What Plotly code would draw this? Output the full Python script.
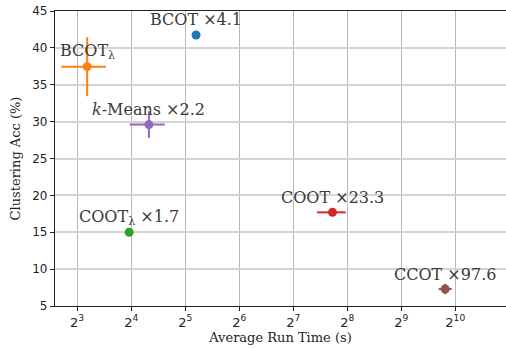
import math
import plotly.graph_objects as go

methods = ["BCOT", "BCOT_lambda", "k-Means", "COOT_lambda", "COOT", "CCOT"]
labels = ["BCOT ×4.1", "BCOT<sub>λ</sub>", "<i>k</i>-Means ×2.2",
          "COOT<sub>λ</sub> ×1.7", "COOT ×23.3", "CCOT ×97.6"]
run_time = [36.8, 9.1, 20.1, 15.6, 212.0, 900.0]
time_minus = [0.0, 2.56, 4.4, 0.0, 38.0, 72.0]
time_plus = [0.0, 2.45, 4.5, 0.0, 39.0, 78.0]
acc = [41.75, 37.45, 29.6, 15.0, 17.7, 7.3]
acc_err = [0.0, 4.0, 1.8, 0.0, 0.0, 0.7]
colors = ["#1f77b4", "#ff7f0e", "#9467bd", "#2ca02c", "#d62728", "#8c564b"]

tick_exp = [3, 4, 5, 6, 7, 8, 9, 10]
tick_vals = [2 ** e for e in tick_exp]
tick_text = [f"2<sup>{e}</sup>" for e in tick_exp]
y_ticks = [5, 10, 15, 20, 25, 30, 35, 40, 45]

fig = go.Figure()
for i in range(len(methods)):
    fig.add_trace(go.Scatter(
        x=[run_time[i]], y=[acc[i]], mode="markers",
        marker=dict(color=colors[i], size=9),
        error_x=dict(type="data", symmetric=False, array=[time_plus[i]],
                     arrayminus=[time_minus[i]], color=colors[i], thickness=2,
                     width=0, visible=time_plus[i] > 0),
        error_y=dict(type="data", array=[acc_err[i]], color=colors[i],
                     thickness=2, width=0, visible=acc_err[i] > 0),
        showlegend=False, name=methods[i]))
    fig.add_annotation(x=math.log10(run_time[i]), y=acc[i], text=labels[i],
                       showarrow=False, yshift=15, xanchor="center", yanchor="middle",
                       font=dict(family="DejaVu Serif", size=16, color="#3a3a3a"))

fig.update_layout(
    width=506, height=348,
    margin=dict(l=55, r=0, t=11, b=42),
    plot_bgcolor="white", paper_bgcolor="white",
    font=dict(family="DejaVu Sans", size=12, color="#222"),
)
fig.update_xaxes(
    type="log", range=[2.59 * math.log10(2), 10.94 * math.log10(2)],
    tickvals=tick_vals, ticktext=tick_text,
    showline=True, linecolor="#222", linewidth=1.2, mirror=True,
    ticks="outside", ticklen=4, tickcolor="#222",
    showgrid=True, gridcolor="#b8b8b8", gridwidth=1, zeroline=False,
    title=dict(text="Average Run Time (s)", font=dict(family="DejaVu Serif", size=13), standoff=4),
    tickfont=dict(size=13),
)
fig.update_yaxes(
    range=[5, 45], tickvals=y_ticks,
    showline=True, linecolor="#222", linewidth=1.2, mirror=False,
    ticks="outside", ticklen=4, tickcolor="#222",
    showgrid=True, gridcolor="#d4d4d4", gridwidth=1.5, zeroline=False,
    title=dict(text="Clustering Acc (%)", font=dict(family="DejaVu Serif", size=13), standoff=8),
)
fig.write_html("out.html", config={"displayModeBar": False},
               post_script="document.body.style.margin='0';document.body.style.overflow='hidden';")
